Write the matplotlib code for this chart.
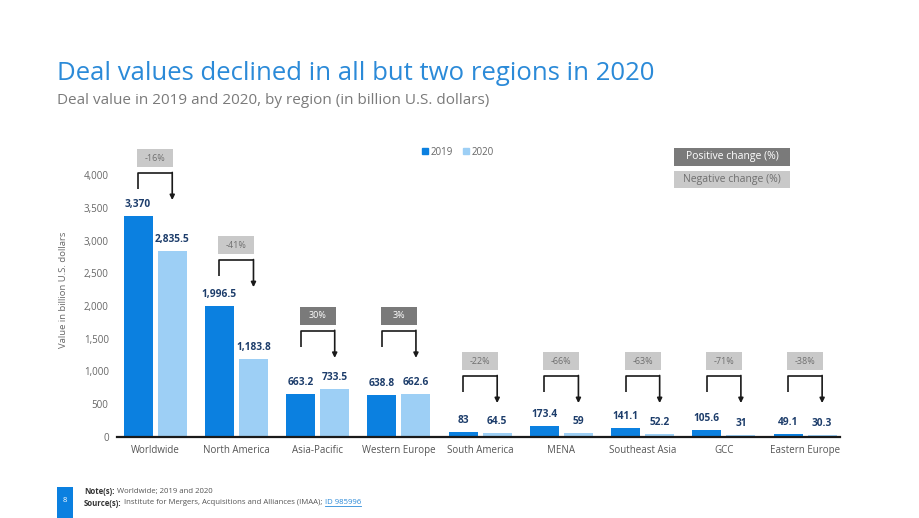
import matplotlib
matplotlib.use("Agg")
import matplotlib.pyplot as plt
from matplotlib.patches import Rectangle
from matplotlib.lines import Line2D
import numpy as np

plt.rcParams['font.family'] = ['Open Sans', 'DejaVu Sans']

# ---------------- data ----------------
regions = ["Worldwide", "North America", "Asia-Pacific", "Western Europe",
           "South America", "MENA", "Southeast Asia", "GCC", "Eastern Europe"]
values_2019 = [3370, 1996.5, 663.2, 638.8, 83, 173.4, 141.1, 105.6, 49.1]
values_2020 = [2835.5, 1183.8, 733.5, 662.6, 64.5, 59, 52.2, 31, 30.3]
change_pct = [-16, -41, 30, 3, -22, -66, -63, -71, -38]
yticks = [0, 500, 1000, 1500, 2000, 2500, 3000, 3500, 4000]

# annotation layout (bracket levels, in axis units)
bracket_levels = [4030, 2700, 1620, 1620, 930, 930, 930, 930, 930]

# ---------------- style ----------------
C2019 = "#0b80e0"
C2020 = "#9dcff5"
LABEL_C = "#1d3d6b"
POS_C = "#7a7a7a"
NEG_C = "#c9c9c9"

W, H = 920, 518
fig = plt.figure(figsize=(W / 100, H / 100), dpi=100)
fig.patch.set_facecolor("white")

ax_l, ax_r, ax_b, ax_t = 117, 840, 437, 142
ax = fig.add_axes([ax_l / W, 1 - ax_b / H, (ax_r - ax_l) / W, (ax_b - ax_t) / H])

x = np.arange(len(regions))
bw = 0.357
off = 0.21
ymax = 4000 * (ax_b - ax_t) / 262.0
ax.set_ylim(0, ymax)
ax.set_xlim(-0.47, len(regions) - 1 + 0.43)

ax.bar(x - off, values_2019, bw, color=C2019, zorder=2)
ax.bar(x + off, values_2020, bw, color=C2020, zorder=2)


def fmt(v):
    if float(v).is_integer():
        return f"{int(v):,}"
    return f"{v:,.1f}"


px = ymax / (ax_b - ax_t)  # data units per pixel
for xi, a, b in zip(x, values_2019, values_2020):
    ax.text(xi - off, a + 6 * px, fmt(a), ha="center", va="bottom",
            fontsize=7.3, fontweight="bold", color=LABEL_C)
    ax.text(xi + off, b + 6 * px, fmt(b), ha="center", va="bottom",
            fontsize=7.3, fontweight="bold", color=LABEL_C)

# brackets
for xi, lev, pct in zip(x, bracket_levels, change_pct):
    ax.plot([xi - off, xi - off, xi + off], [lev - 16 * px, lev, lev],
            color="#1a1a1a", lw=1.2, solid_capstyle="butt", clip_on=False, zorder=3)
    ax.annotate("", xy=(xi + off, lev - 27 * px), xytext=(xi + off, lev + 0.6 * px),
                arrowprops=dict(arrowstyle="-|>", color="#1a1a1a", lw=1.2,
                                mutation_scale=7, shrinkA=0, shrinkB=0),
                annotation_clip=False, zorder=3)
    bx_w = 36 / 81.25
    bx_h = 18 * px
    y0 = lev + 6 * px
    fc = POS_C if pct > 0 else NEG_C
    tc = "white" if pct > 0 else "#6f6f6f"
    ax.add_patch(Rectangle((xi - bx_w / 2, y0), bx_w, bx_h, facecolor=fc,
                           edgecolor="none", clip_on=False, zorder=3))
    ax.text(xi, y0 + bx_h / 2, f"{pct}%", ha="center", va="center",
            fontsize=6.5, color=tc, zorder=4)

ax.set_xticks(x)
ax.set_xticklabels(regions, fontsize=7, color="#555555")
ax.set_yticks(yticks)
ax.set_yticklabels([f"{t:,}" for t in yticks], fontsize=7, color="#666666")
ax.tick_params(axis="both", length=0, pad=6)
for s in ["top", "right", "left"]:
    ax.spines[s].set_visible(False)
ax.spines["bottom"].set_color("#1a1a1a")
ax.spines["bottom"].set_linewidth(1.6)
ax.set_ylabel("Value in billion U.S. dollars", fontsize=6.8, color="#666666")
ax.yaxis.set_label_coords(-0.068, 0.5)

# titles
fig.text(57 / W, 1 - 73 / H, "Deal values declined in all but two regions in 2020",
         fontsize=18.5, color="#2b8ad8", ha="left", va="center")
fig.text(57 / W, 1 - 101 / H, "Deal value in 2019 and 2020, by region (in billion U.S. dollars)",
         fontsize=11, color="#7a7a7a", ha="left", va="center")

# legend
handles = [Line2D([], [], marker="s", ls="none", color=C2019, markersize=4.5),
           Line2D([], [], marker="s", ls="none", color=C2020, markersize=4.5)]
fig.legend(handles, ["2019", "2020"], loc="center", bbox_to_anchor=(457 / W, 1 - 152 / H),
           ncol=2, frameon=False, fontsize=7, handletextpad=0.1, columnspacing=0.8,
           handlelength=1.0, labelcolor="#666666")

# change legend boxes
for (y_top, y_bot, fc, tc, lab) in [(148, 166, POS_C, "white", "Positive change (%)"),
                                    (171, 188, NEG_C, "#6f6f6f", "Negative change (%)")]:
    fig.patches.append(Rectangle((674 / W, 1 - y_bot / H), 116 / W, (y_bot - y_top) / H,
                                 transform=fig.transFigure, facecolor=fc, edgecolor="none"))
    fig.text(732 / W, 1 - (y_top + y_bot) / 2 / H, lab, ha="center", va="center",
             fontsize=7.5, color=tc)

# footer
fig.patches.append(Rectangle((57 / W, 0), 16 / W, 31 / H, transform=fig.transFigure,
                             facecolor="#0b80e0", edgecolor="none"))
fig.text(65 / W, 1 - 501 / H, "8", ha="center", va="center", fontsize=5.5, color="white")

renderer = fig.canvas.get_renderer()


def seq(xpix, ypix, parts):
    cur = xpix
    for txt, kw in parts:
        t = fig.text(cur / W, 1 - ypix / H, txt, fontsize=5.6, va="center", **kw)
        bb = t.get_window_extent(renderer=renderer)
        if kw.get("color") == "#2b8ad8":
            fig.lines.append(Line2D([bb.x0 / W, bb.x1 / W], [(bb.y0 + 0.5) / H] * 2,
                                    transform=fig.transFigure, color="#2b8ad8", lw=0.6))
        cur = bb.x1 + 2.5


seq(84, 491, [("Note(s):", dict(fontweight="bold", color="#333333")),
              ("Worldwide; 2019 and 2020", dict(color="#555555"))])
seq(84, 503, [("Source(s):", dict(fontweight="bold", color="#333333")),
              ("Institute for Mergers, Acquisitions and Alliances (IMAA);", dict(color="#555555")),
              ("ID 985996", dict(color="#2b8ad8"))])

fig.savefig("out.png", dpi=100, facecolor="white")
